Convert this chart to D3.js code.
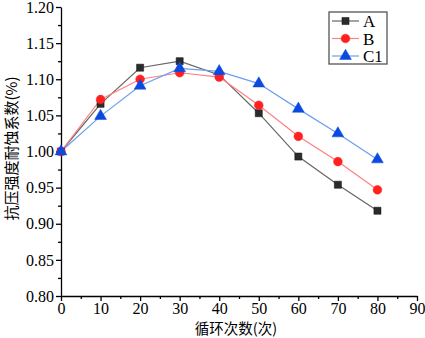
<!DOCTYPE html>
<html lang="zh">
<head>
<meta charset="UTF-8">
<title>循环次数</title>
<script src="https://cdn.jsdelivr.net/npm/d3@7"></script>
<style>
	body { margin: 0; background: #fff; }
	svg text { font-family: "Liberation Serif", "Times New Roman", serif; }
	.cjk { font-family: "Noto Sans CJK SC", sans-serif; }
</style>
</head>
<body>
<div id="chart"></div>
<script>
	var cycles = [0, 10, 20, 30, 40, 50, 60, 70, 80];
	var seriesNames = ['A', 'B', 'C1'];
	var valuesA = [1.000, 1.066, 1.116, 1.125, 1.106, 1.053, 0.993, 0.954, 0.918];
	var valuesB = [1.000, 1.072, 1.100, 1.109, 1.103, 1.064, 1.021, 0.986, 0.947];
	var valuesC1 = [1.000, 1.049, 1.091, 1.115, 1.111, 1.094, 1.059, 1.025, 0.989];
	var xTicks = [0, 10, 20, 30, 40, 50, 60, 70, 80, 90];
	var yTicks = [0.80, 0.85, 0.90, 0.95, 1.00, 1.05, 1.10, 1.15, 1.20];

	var W = 425, H = 338;
	var margin = {top: 7, left: 61, right: 8, bottom: 42};
	var width = W - margin.left - margin.right;
	var height = H - margin.top - margin.bottom;

	var svg = d3.select('#chart').append('svg')
		.attr('width', W).attr('height', H);
	var g = svg.append('g')
		.attr('transform', 'translate(' + margin.left + ',' + margin.top + ')');

	var x = d3.scaleLinear().domain([0, 90]).range([0, width]);
	var y = d3.scaleLinear().domain([0.80, 1.20]).range([height, 0]);

	// minor ticks
	var xMinor = d3.range(5, 90, 10);
	var yMinor = d3.range(0, 8).map(function (i) { return 0.825 + i * 0.05; });

	g.append('g')
		.attr('transform', 'translate(0,' + height + ')')
		.call(d3.axisBottom(x).tickValues(xMinor).tickSize(3).tickFormat(''))
		.call(function (s) { s.select('.domain').remove(); });
	g.append('g')
		.call(d3.axisLeft(y).tickValues(yMinor).tickSize(3).tickFormat(''))
		.call(function (s) { s.select('.domain').remove(); });

	var gx = g.append('g')
		.attr('transform', 'translate(0,' + height + ')')
		.call(d3.axisBottom(x).tickValues(xTicks).tickSize(5).tickSizeOuter(0).tickPadding(2)
			.tickFormat(d3.format('d')));
	var gy = g.append('g')
		.call(d3.axisLeft(y).tickValues(yTicks).tickSize(5).tickSizeOuter(0).tickPadding(2)
			.tickFormat(d3.format('.2f')));

	[gx, gy].forEach(function (a) {
		a.selectAll('path, line').attr('stroke', '#000').attr('stroke-width', 1.3);
		a.selectAll('text')
			.attr('font-family', '"Liberation Serif", serif')
			.attr('font-size', 16).attr('fill', '#000');
	});
	g.selectAll('.tick line').attr('stroke', '#000').attr('stroke-width', 1.3);

	// axis titles
	svg.append('text')
		.attr('class', 'cjk')
		.attr('x', margin.left + x(45) - 3).attr('y', 334)
		.attr('text-anchor', 'middle').attr('font-size', 14.5)
		.text('循环次数(次)');
	svg.append('text')
		.attr('class', 'cjk')
		.attr('transform', 'translate(17,' + (margin.top + y(1.0) - 3) + ') rotate(-90)')
		.attr('text-anchor', 'middle').attr('font-size', 15)
		.text('抗压强度耐蚀系数(%)');

	var series = [
		{name: 'A', values: valuesA, line: '#666', fill: '#2b2b2b', stroke: '#111', shape: d3.symbolSquare, size: 50},
		{name: 'B', values: valuesB, line: '#ff8080', fill: '#ff2020', stroke: '#ff2020', shape: d3.symbolCircle, size: 60},
		{name: 'C1', values: valuesC1, line: '#6a9ff0', fill: '#0a4ae0', stroke: '#0a4ae0', shape: d3.symbolTriangle, size: 60}
	];

	var line = d3.line()
		.x(function (d) { return x(d[0]); })
		.y(function (d) { return y(d[1]); });

	series.forEach(function (s) {
		var pts = cycles.map(function (c, i) { return [c, s.values[i]]; });
		g.append('path')
			.datum(pts)
			.attr('fill', 'none')
			.attr('stroke', s.line)
			.attr('stroke-width', 1.2)
			.attr('d', line);
	});
	series.forEach(function (s) {
		var pts = cycles.map(function (c, i) { return [c, s.values[i]]; });
		g.selectAll('.m-' + s.name)
			.data(pts)
			.enter().append('path')
			.attr('class', 'm-' + s.name)
			.attr('transform', function (d) {
				return 'translate(' + x(d[0]) + ',' + y(d[1]) + ')';
			})
			.attr('d', d3.symbol().type(s.shape).size(s.size))
			.attr('fill', s.fill)
			.attr('stroke', s.stroke)
			.attr('stroke-width', 0.5);
	});

	// legend
	var lg = svg.append('g').attr('transform', 'translate(329,12)');
	lg.append('rect')
		.attr('x', 0).attr('y', 0).attr('width', 58).attr('height', 52)
		.attr('fill', '#fff').attr('stroke', '#555').attr('stroke-width', 1.3);
	series.forEach(function (s, i) {
		var yy = 9 + i * 17.5;
		lg.append('line')
			.attr('x1', 3).attr('x2', 30).attr('y1', yy).attr('y2', yy)
			.attr('stroke', s.line).attr('stroke-width', 1.2);
		lg.append('path')
			.attr('transform', 'translate(16.5,' + yy + ')')
			.attr('d', d3.symbol().type(s.shape).size(s.size))
			.attr('fill', s.fill).attr('stroke', s.stroke).attr('stroke-width', 0.5);
		lg.append('text')
			.attr('x', 34).attr('y', yy + 6)
			.attr('font-size', 17).attr('fill', '#000')
			.text(seriesNames[i]);
	});
</script>
</body>
</html>
